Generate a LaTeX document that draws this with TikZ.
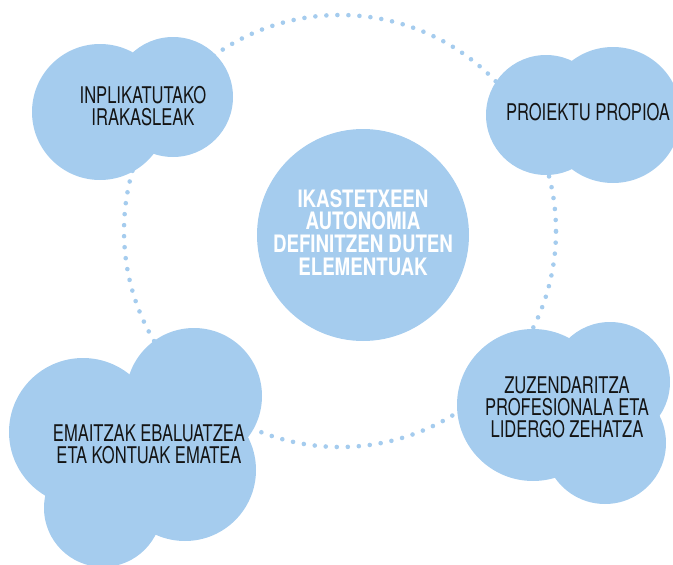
\documentclass[tikz,border=0pt]{standalone}
\usepackage{fontspec}
\newfontfamily\condlight[FakeStretch=0.72]{TeX Gyre Heros}
\newfontfamily\condbold[FakeStretch=0.78]{TeX Gyre Heros Bold}
\definecolor{cloud}{RGB}{165,204,238}
\definecolor{ink}{RGB}{20,20,20}
\tikzset{
  cloudfill/.style={fill=cloud},
  ringdots/.style={draw=cloud, line width=4.6pt, line cap=round, dash pattern=on 0pt off 11.03pt},
  cloudtext/.style={align=center, text=ink, inner sep=0pt, font=\condlight\fontsize{23}{22}\selectfont},
  coretext/.style={align=center, text=white, inner sep=0pt, font=\condbold\fontsize{24}{22.7}\selectfont},
}
\begin{document}
\begin{tikzpicture}[x=1pt,y=-1pt]
\useasboundingbox (0,0) rectangle (673,565);
% dotted ring
\draw[ringdots] (340,231) circle[radius=216pt];
% central circle
\node[circle, cloudfill, minimum size=212pt, inner sep=0pt] (core) at (363,235) {};
\node[coretext] (coretxt) at (363,232.5) {IKASTETXEEN\\AUTONOMIA\\DEFINITZEN DUTEN\\ELEMENTUAK};
% top-left cloud
\fill[cloud] (100,112) circle[radius=68pt] (173,97) circle[radius=60pt];
\node[cloudtext] (tl) at (143,106) {INPLIKATUTAKO\\IRAKASLEAK};
% top-right cloud
\fill[cloud] (546,115) circle[radius=60pt] (613,115) circle[radius=68pt];
\node[cloudtext] (tr) at (588,112.5) {PROIEKTU PROPIOA};
% bottom-left cloud
\fill[cloud] (83,432) circle[radius=74pt] (194,396) circle[radius=68pt]
  (185,470) circle[radius=71pt] (103,508) circle[radius=59pt];
\node[cloudtext] (bl) at (149,444) {EMAITZAK EBALUATZEA\\ETA KONTUAK EMATEA};
% bottom-right cloud
\fill[cloud] (533,405) circle[radius=76pt] (610,382) circle[radius=60pt]
  (605,443) circle[radius=61pt];
\node[cloudtext] (br) at (567,407) {ZUZENDARITZA\\PROFESIONALA ETA\\LIDERGO ZEHATZA};
\end{tikzpicture}
\end{document}
